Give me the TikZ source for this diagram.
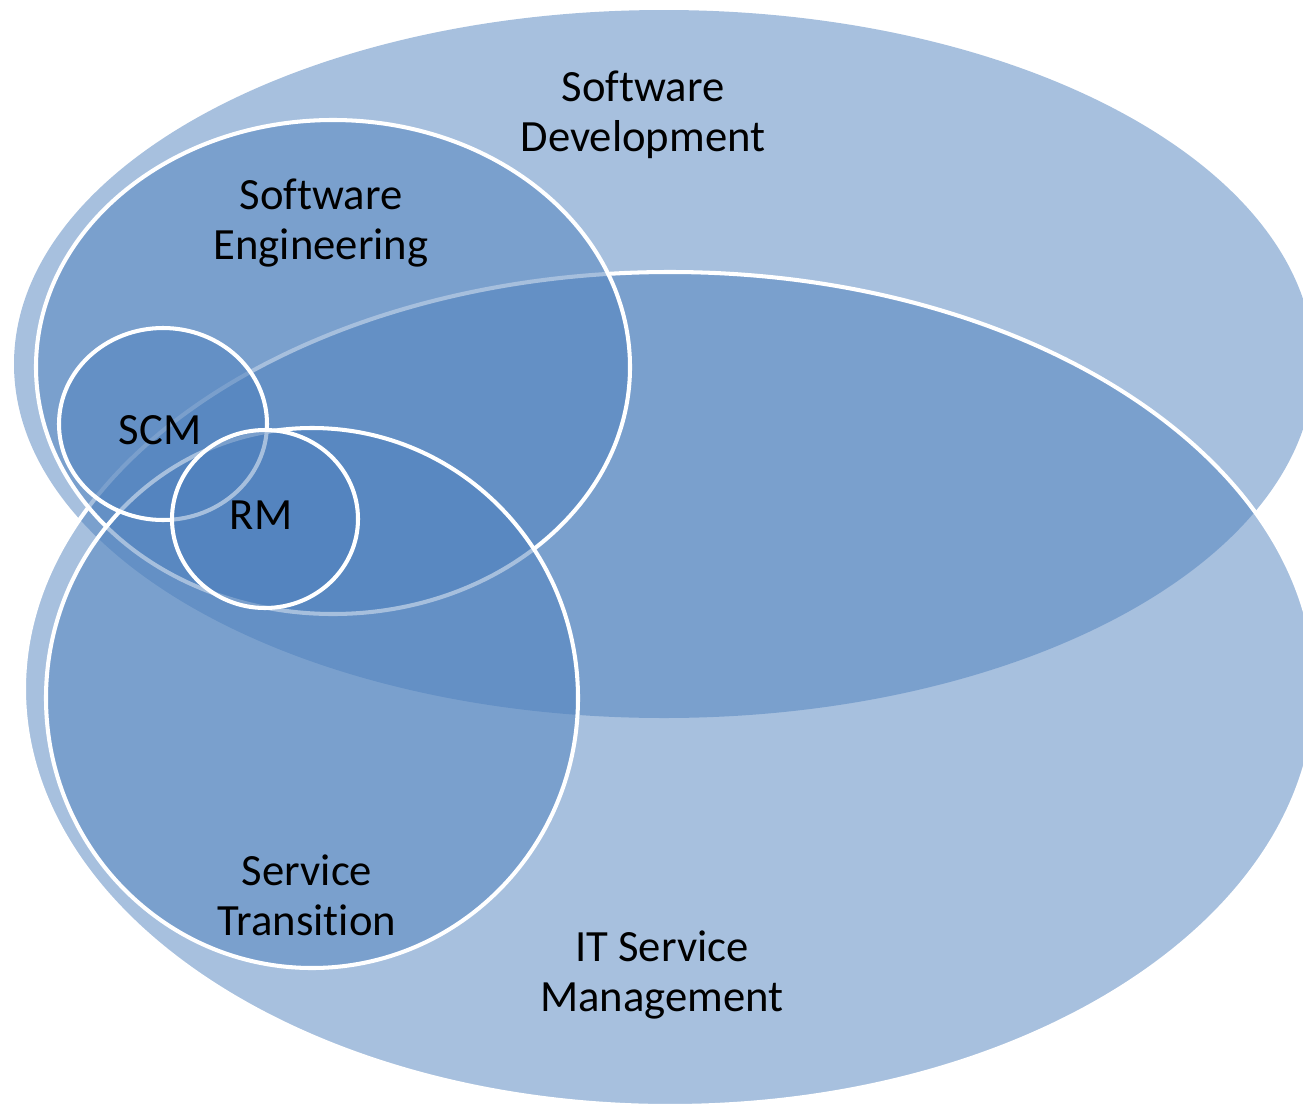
\documentclass[tikz,border=0pt]{standalone}
\usepackage{fontspec}
\setmainfont{Carlito}[Ligatures=NoCommon]
\definecolor{accent}{HTML}{4F81BD}
\begin{document}
\begin{tikzpicture}[x=0.01cm,y=-0.01cm,
  setfill/.style={fill=accent, fill opacity=0.5},
  setline/.style={setfill, draw=white, line width=1.15pt},
  lbl/.style={align=center, font=\fontsize{12.7}{14.2}\selectfont, text=black, inner sep=0pt}]
\useasboundingbox (0,0) rectangle (1303,1109);
\clip (0,0) rectangle (1303,1109);
% Software Development
\path[setfill] (664,364) ellipse [x radius=650, y radius=354];
% IT Service Management
\path[setline] (670,689) ellipse [x radius=646, y radius=417];
% Software Engineering
\path[setline] (333,367) ellipse [x radius=297, y radius=247];
% Service Transition
\path[setline] (312,698) ellipse [x radius=266, y radius=270];
% SCM
\path[setline] (163,424) ellipse [x radius=104, y radius=96];
% RM
\path[setline] (265,519) ellipse [x radius=93, y radius=89];
% labels
\node[lbl] (sdl) at (643,115) {Software\\Development};
\node[lbl] (sel) at (321,223) {Software\\Engineering};
\node[lbl] (scml) at (160,430) {SCM};
\node[lbl] (rml) at (261,515) {RM};
\node[lbl] (stl) at (307,895) {Service\\Transition};
\node[lbl] (itl) at (662,975) {IT Service\\Management};
\end{tikzpicture}
\end{document}
